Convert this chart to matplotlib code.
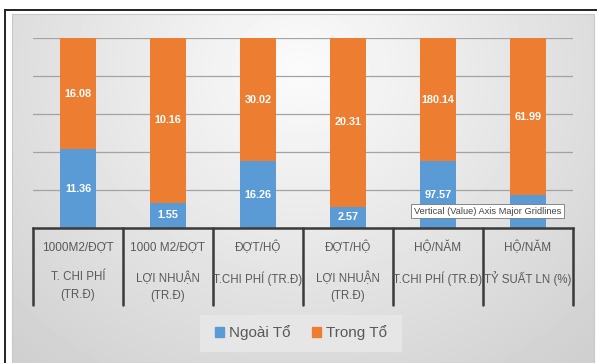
#!/usr/bin/env python3
"""100% stacked columns: Ngoài Tổ vs Trong Tổ, with two-level category axis."""
import matplotlib
matplotlib.use("Agg")
import matplotlib.pyplot as plt
import matplotlib.transforms as mtransforms
from matplotlib.patches import Patch, Rectangle
import numpy as np

plt.rcParams["font.family"] = ["Liberation Sans", "DejaVu Sans"]

units = ["1000M2/ĐỢT", "1000 M2/ĐỢT", "ĐỢT/HỘ", "ĐỢT/HỘ", "HỘ/NĂM", "HỘ/NĂM"]
metrics = ["T. CHI PHÍ\n(TR.Đ)", "LỢI NHUẬN\n(TR.Đ)", "T.CHI PHÍ (TR.Đ)",
           "LỢI NHUẬN\n(TR.Đ)", "T.CHI PHÍ (TR.Đ)", "TỶ SUẤT LN (%)"]
ngoai_to = [11.36, 1.55, 16.26, 2.57, 97.57, 13.0]
trong_to = [16.08, 10.16, 30.02, 20.31, 180.14, 61.99]
# the last blue label is hidden under the hover tooltip in the screenshot
show_ngoai_label = [True, True, True, True, True, False]

BLUE = "#5B9BD5"
ORANGE = "#ED7D31"
GREY_TXT = "#595959"

W, H = 597, 363
fig = plt.figure(figsize=(W / 100, H / 100), dpi=100)
fig.patch.set_facecolor("white")

# background: radial grey gradient inside a framed chart area
bg = fig.add_axes([0, 0, 1, 1], zorder=0)
bg.set_xlim(0, W)
bg.set_ylim(H, 0)
bg.axis("off")
yy, xx = np.mgrid[14:H, 12:594]
r = np.hypot(xx - 300, (yy - 70) * 1.1)
shade = 0.985 - 0.17 * np.clip(r / 420, 0, 1)
bg.imshow(shade, cmap="gray", vmin=0, vmax=1, extent=(12, 594, H, 14),
          aspect="auto", interpolation="bilinear")
bg.add_patch(Rectangle((12, 14), 582, H - 14, fill=False, ec="#c8c8c8", lw=0.8))
bg.plot([5, W], [10, 10], color="#222222", lw=1.4)
bg.plot([5, 5], [10, H], color="#222222", lw=1.4)
bg.add_patch(Rectangle((200, 315), 202, 37, fc="#e6e6e6", ec="none"))

# plot area
ax = fig.add_axes([33 / W, 1 - 228 / H, 540 / W, 190 / H], zorder=1)
ax.patch.set_alpha(0)
x = np.arange(len(units))
tot = np.array(ngoai_to) + np.array(trong_to)
p_ng = np.array(ngoai_to) / tot * 100
p_tr = np.array(trong_to) / tot * 100

ax.bar(x, p_ng, 0.39, color=BLUE, zorder=2)
ax.bar(x, p_tr, 0.39, bottom=p_ng, color=ORANGE, zorder=2)
for i in x:
    if show_ngoai_label[i]:
        ax.text(i, p_ng[i] / 2, f"{ngoai_to[i]:.2f}", ha="center", va="center",
                color="white", fontsize=7.8, fontweight="bold", zorder=3)
    ax.text(i, p_ng[i] + p_tr[i] / 2, f"{trong_to[i]:.2f}", ha="center",
            va="center", color="white", fontsize=7.8, fontweight="bold", zorder=3)

ax.set_xlim(-0.5, 5.5)
ax.set_ylim(0, 100)
for g in (20, 40, 60, 80, 100):
    ax.axhline(g, color="#a3a3a3", lw=0.9, zorder=1)
ax.axhline(0, color="#3a3a3a", lw=1.8, zorder=4, clip_on=False)
for s in ax.spines.values():
    s.set_visible(False)
ax.set_xticks([])
ax.set_yticks([])

# two-level category axis
trans = mtransforms.blended_transform_factory(ax.transData, ax.transAxes)
for b in np.arange(-0.5, 6, 1.0):
    ax.plot([b, b], [0, -0.405], transform=trans, color="#3a3a3a", lw=1.8,
            clip_on=False, solid_capstyle="round")
for i in x:
    ax.text(i, -0.10, units[i], transform=trans, ha="center", va="center",
            fontsize=8.5, color=GREY_TXT)
    ax.text(i, -0.228, metrics[i], transform=trans, ha="center", va="top",
            fontsize=8.3, color=GREY_TXT, linespacing=1.6)

# legend
fig.legend(handles=[Patch(color=BLUE, label="Ngoài Tổ"),
                    Patch(color=ORANGE, label="Trong Tổ")],
           loc="center", bbox_to_anchor=(301 / W, 1 - 333 / H), ncol=2,
           frameon=False, fontsize=11, handlelength=0.6, handleheight=0.6,
           handletextpad=0.3, columnspacing=1.4, labelcolor=GREY_TXT)

# hover tooltip left in the screenshot
fig.text(414 / W, 1 - 211 / H, "Vertical (Value) Axis Major Gridlines",
         ha="left", va="center", fontsize=6.7, color="#444444", zorder=5,
         bbox=dict(boxstyle="square,pad=0.3", fc="white", ec="#777777", lw=0.6))

fig.savefig("out.png", dpi=100)
